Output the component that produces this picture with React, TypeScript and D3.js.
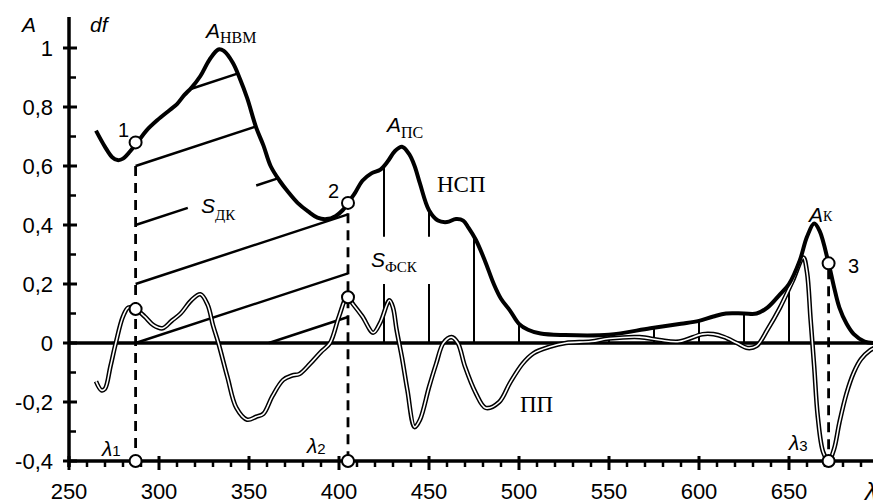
import * as d3 from 'd3';
import React, { useEffect, useRef } from 'react';

// spectrum A (thick line)
const absorbance: [number, number][] = [
  [265, 0.72], [270, 0.665], [274, 0.63], [277, 0.62], [280, 0.625], [284, 0.65], [288, 0.68],
  [293, 0.72], [299, 0.755], [306, 0.79], [310, 0.81], [314, 0.84], [318, 0.865], [323, 0.905],
  [328, 0.96], [333, 0.995], [336, 0.99], [341, 0.95], [345, 0.895], [349, 0.83], [354, 0.73],
  [358, 0.67], [362, 0.6], [367, 0.55], [372, 0.51], [377, 0.475], [383, 0.445], [388, 0.425],
  [393, 0.42], [398, 0.43], [402, 0.45], [405, 0.475], [409, 0.51], [413, 0.55], [418, 0.575],
  [423, 0.588], [427, 0.615], [431, 0.65], [435, 0.665], [439, 0.64], [442, 0.6], [445, 0.54],
  [450, 0.45], [455, 0.415], [460, 0.41], [465, 0.42], [469, 0.415], [472, 0.39], [476, 0.35],
  [481, 0.28], [486, 0.2], [490, 0.15], [495, 0.11], [500, 0.065], [505, 0.045], [512, 0.032],
  [525, 0.027], [550, 0.028], [573, 0.05], [590, 0.065], [600, 0.075], [608, 0.09], [615, 0.1],
  [625, 0.1], [632, 0.1], [638, 0.12], [645, 0.165], [650, 0.2], [656, 0.28], [660, 0.36],
  [664, 0.405], [667, 0.38], [672, 0.27], [675, 0.19], [678, 0.12], [682, 0.065], [686, 0.03],
  [692, 0.005], [700, 0],
];

// derivative df (double line)
const derivative: [number, number][] = [
  [265, -0.13], [268, -0.16], [270, -0.155], [273, -0.08], [276, 0.0], [280, 0.09], [283, 0.12],
  [287, 0.115], [292, 0.09], [297, 0.06], [302, 0.05], [307, 0.075], [312, 0.1], [318, 0.145],
  [323, 0.165], [327, 0.13], [330, 0.06], [333, 0.0], [338, -0.115], [343, -0.22], [349, -0.26],
  [354, -0.25], [358, -0.24], [363, -0.18], [369, -0.125], [374, -0.11], [378, -0.105],
  [384, -0.07], [390, -0.03], [395, 0.0], [400, 0.09], [404.5, 0.155], [408, 0.13], [413, 0.09],
  [419, 0.035], [423, 0.07], [428, 0.145], [430, 0.12], [432, 0.045], [435, -0.05], [438, -0.16],
  [442, -0.285], [445, -0.26], [450, -0.15], [454, -0.07], [458, 0.0], [462.5, 0.02], [466, 0.0],
  [470, -0.08], [476, -0.17], [481.5, -0.22], [489, -0.2], [495, -0.135], [502, -0.07],
  [508, -0.035], [517, -0.013], [526, 0.0], [540, 0.005], [550, 0.015], [567, 0.02], [578, 0.01],
  [589, 0.005], [602, 0.03], [608, 0.03], [614, 0.02], [621, 0.0], [627, -0.017], [632, -0.01],
  [638, 0.045], [645, 0.12], [652, 0.21], [658, 0.29], [660, 0.24], [662, 0.08], [664, -0.08],
  [666, -0.25], [669, -0.37], [672, -0.4], [675, -0.36], [678, -0.27], [682, -0.17], [686, -0.1],
  [690, -0.055], [695, -0.025], [700, -0.01],
];

const lambdas = [287, 405, 672];
const dashTops = [0.6, 0.44, 0.25];
const markers: [number, number][] = [
  [287, 0.68], [287, 0.115], [287, -0.4],
  [405, 0.475], [405, 0.155], [405, -0.4],
  [672, 0.27], [672, -0.4],
];
const stripes = [425, 450, 475, 500, 550, 575, 600, 625, 650];
const stripeGap = [0.2, 0.36];
const hatch: [number, number, number, number][] = [
  [287, 0, 405, 0.236],
  [361, 0, 405, 0.088],
  [287, 0.2, 405, 0.436],
  [287, 0.4, 316, 0.458],
  [354, 0.534, 366, 0.558],
  [287, 0.6, 354, 0.734],
  [318, 0.862, 344, 0.914],
];
const xTicks = [250, 300, 350, 400, 450, 500, 550, 600, 650];
const yTicks = [-0.4, -0.2, 0, 0.2, 0.4, 0.6, 0.8, 1];

const sans = 'Liberation Sans, Arial, sans-serif';
const serif = 'Liberation Serif, Times New Roman, serif';

function aAt(l: number) {
  const i = d3.bisector((d: [number, number]) => d[0]).left(absorbance, l);
  if (i <= 0) return absorbance[0][1];
  const [x0, y0] = absorbance[i - 1];
  const [x1, y1] = absorbance[i];
  return y0 + (y1 - y0) * (l - x0) / (x1 - x0);
}

function App() {
  const ref = useRef<SVGSVGElement>(null);

  useEffect(() => {
    const svg = d3.select(ref.current);
    svg.selectAll('*').remove();

    const width = 873;
    const x = d3.scaleLinear().domain([250, 700]).range([69, 879]);
    const y = d3.scaleLinear().domain([-0.4, 1]).range([461, 48]);

    const line = d3.line<[number, number]>()
      .x(d => x(d[0]))
      .y(d => y(d[1]))
      .curve(d3.curveCatmullRom.alpha(0.5));

    // axes
    svg.append('line')
      .attr('x1', x(250)).attr('x2', width)
      .attr('y1', y(-0.4)).attr('y2', y(-0.4))
      .attr('stroke', '#000').attr('stroke-width', 3.5);
    svg.append('line')
      .attr('x1', x(250)).attr('x2', x(250))
      .attr('y1', 17).attr('y2', y(-0.4) + 6)
      .attr('stroke', '#000').attr('stroke-width', 3.5);

    // x ticks
    d3.range(260, 700, 10).filter(v => v % 50 !== 0).forEach(v => {
      svg.append('line')
        .attr('x1', x(v)).attr('x2', x(v))
        .attr('y1', y(-0.4)).attr('y2', y(-0.4) + 6)
        .attr('stroke', '#000').attr('stroke-width', 2.5);
    });
    xTicks.concat([700]).forEach(v => {
      svg.append('line')
        .attr('x1', x(v)).attr('x2', x(v))
        .attr('y1', y(-0.4) - 5).attr('y2', y(-0.4) + 9)
        .attr('stroke', '#000').attr('stroke-width', 3);
    });
    svg.selectAll('.xlab')
      .data(xTicks)
      .enter().append('text')
      .attr('x', d => x(d))
      .attr('y', 499)
      .attr('text-anchor', 'middle')
      .attr('font-family', sans)
      .attr('font-size', 22)
      .text(d => d);

    // y ticks
    d3.range(-0.3, 1, 0.2).forEach(v => {
      svg.append('line')
        .attr('x1', x(250)).attr('x2', x(250) + 7)
        .attr('y1', y(v)).attr('y2', y(v))
        .attr('stroke', '#000').attr('stroke-width', 2.5);
    });
    yTicks.forEach(v => {
      svg.append('line')
        .attr('x1', x(250) - 6).attr('x2', x(250) + 8)
        .attr('y1', y(v)).attr('y2', y(v))
        .attr('stroke', '#000').attr('stroke-width', 3);
    });
    svg.selectAll('.ylab')
      .data(yTicks)
      .enter().append('text')
      .attr('x', 53)
      .attr('y', d => y(d) + 8)
      .attr('text-anchor', 'end')
      .attr('font-family', sans)
      .attr('font-size', 22)
      .text(d => String(Math.round(d * 10) / 10).replace('.', ','));

    // zero line
    svg.append('line')
      .attr('x1', x(250)).attr('x2', width)
      .attr('y1', y(0)).attr('y2', y(0))
      .attr('stroke', '#000').attr('stroke-width', 3.5);

    // S_FSK stripes
    stripes.forEach(l => {
      const top = aAt(l);
      const parts = (l === 425 || l === 450)
        ? [[0, stripeGap[0]], [stripeGap[1], top]]
        : [[0, top]];
      parts.forEach(([a, b]) => {
        svg.append('line')
          .attr('x1', x(l)).attr('x2', x(l))
          .attr('y1', y(a)).attr('y2', y(b))
          .attr('stroke', '#000').attr('stroke-width', 2);
      });
    });

    // S_DK hatching
    svg.selectAll('.hatch')
      .data(hatch)
      .enter().append('line')
      .attr('x1', d => x(d[0])).attr('y1', d => y(d[1]))
      .attr('x2', d => x(d[2])).attr('y2', d => y(d[3]))
      .attr('stroke', '#000').attr('stroke-width', 2.5);

    // derivative double line
    svg.append('path')
      .attr('d', line(derivative))
      .attr('fill', 'none').attr('stroke', '#000').attr('stroke-width', 4.6);
    svg.append('path')
      .attr('d', line(derivative))
      .attr('fill', 'none').attr('stroke', '#fff').attr('stroke-width', 1.6);

    // absorbance
    svg.append('path')
      .attr('d', line(absorbance))
      .attr('fill', 'none').attr('stroke', '#000').attr('stroke-width', 4)
      .attr('stroke-linejoin', 'round');

    // dashed lambda lines
    lambdas.forEach((l, i) => {
      svg.append('line')
        .attr('x1', x(l)).attr('x2', x(l))
        .attr('y1', y(dashTops[i])).attr('y2', y(-0.4))
        .attr('stroke', '#000').attr('stroke-width', 2.8)
        .attr('stroke-dasharray', '10,7');
    });

    // markers
    svg.selectAll('.mark')
      .data(markers)
      .enter().append('circle')
      .attr('cx', d => x(d[0])).attr('cy', d => y(d[1]))
      .attr('r', 6)
      .attr('fill', '#fff').attr('stroke', '#000').attr('stroke-width', 2);

    const label = (
      px: number, py: number, main: string, sub: string,
      opts: { size?: number; subSize?: number; subFont?: string; dy?: number } = {}
    ) => {
      const t = svg.append('text')
        .attr('x', px).attr('y', py)
        .attr('font-family', sans)
        .attr('font-size', opts.size ?? 21);
      t.append('tspan')
        .attr('font-style', 'italic')
        .text(main);
      if (sub) {
        t.append('tspan')
          .attr('dy', opts.dy ?? 5)
          .attr('font-family', opts.subFont ?? serif)
          .attr('font-size', opts.subSize ?? 16)
          .text(sub);
      }
    };

    label(22, 32, 'A', '');
    label(90, 32, 'df', '');
    label(206, 38, 'A', 'НВМ', { dy: 5 });
    label(387, 132, 'A', 'ПС', { dy: 6 });
    label(809, 222, 'A', 'К', { dy: -1, subSize: 14 });
    label(201, 213, 'S', 'ДК', { dy: 7, subSize: 15 });
    label(371, 267, 'S', 'ФСК', { dy: 5, subSize: 15 });
    label(102, 456, 'λ', '1', { subFont: sans, subSize: 15, dy: 0 });
    label(307, 453, 'λ', '2', { subFont: sans, subSize: 15, dy: 1 });
    label(789, 450, 'λ', '3', { subFont: sans, subSize: 15, dy: 1 });
    label(865, 500, 'λ', '', { size: 24 });

    [['1', 118, 137], ['2', 328, 198], ['3', 848, 273]].forEach(([s, px, py]) => {
      svg.append('text')
        .attr('x', px).attr('y', py)
        .attr('font-family', sans).attr('font-size', 20)
        .text(s as string);
    });

    svg.append('text')
      .attr('x', 437).attr('y', 192)
      .attr('font-family', serif).attr('font-size', 23)
      .text('НСП');
    svg.append('text')
      .attr('x', 520).attr('y', 412)
      .attr('font-family', serif).attr('font-size', 23)
      .text('ПП');
  }, []);

  return (
    <svg ref={ref} width={873} height={504}
      style={{ position: 'fixed', left: 0, top: 0, background: '#fff' }}></svg>
  );
}

export default App;
